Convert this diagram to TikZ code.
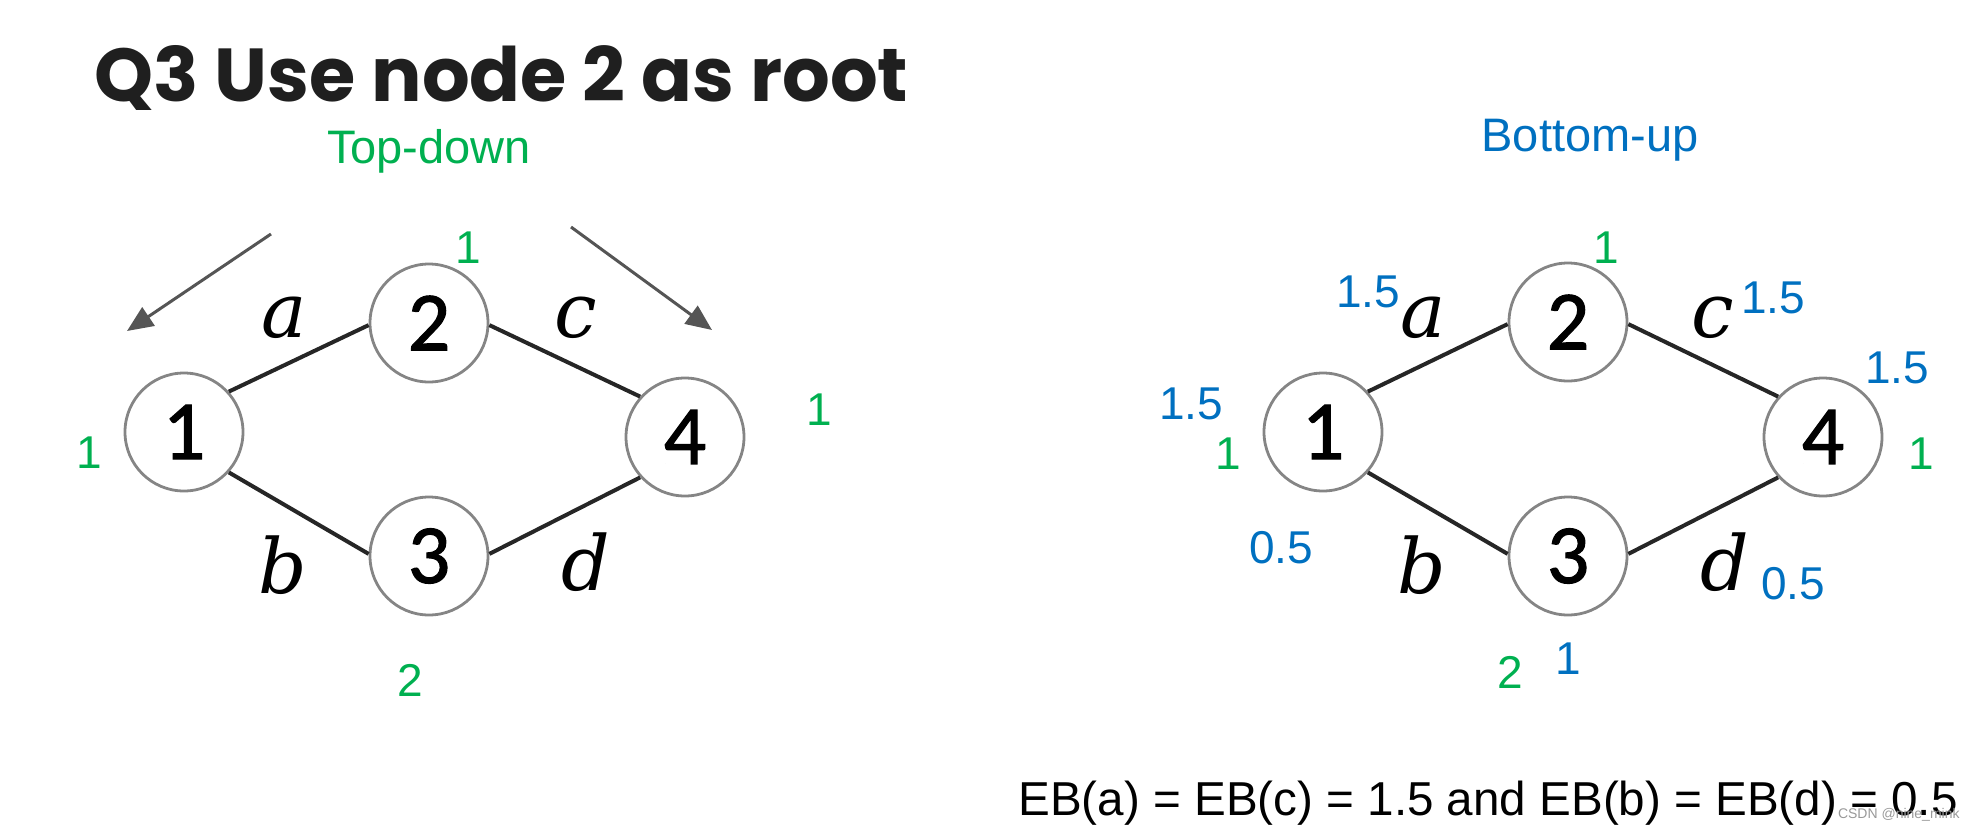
\documentclass[tikz,border=0pt]{standalone}
\usepackage{fontspec}
\setmainfont{Liberation Sans}
\newfontfamily\titlefont{Poppins}
\newfontfamily\digfont{Carlito}[FakeBold=1.3]
\newfontfamily\edgefont{DejaVu Serif}
\usetikzlibrary{arrows.meta}
\definecolor{tgreen}{HTML}{00B050}
\definecolor{tblue}{HTML}{0070C0}
\definecolor{arrgray}{HTML}{555555}
\tikzset{
  vtx/.style={circle, draw=black!48, line width=1.4pt, minimum size=59pt, inner sep=0pt,
    font=\digfont\fontsize{42}{44}\selectfont},
  edg/.style={draw=black!85, line width=2pt},
  elab/.style={inner sep=0pt, font=\edgefont\itshape\fontsize{38}{44}\selectfont},
  gnum/.style={inner sep=0pt, text=tgreen, font=\fontsize{23}{26}\selectfont},
  bnum/.style={inner sep=0pt, text=tblue, font=\fontsize{23}{26}\selectfont},
  dirarrow/.style={draw=arrgray, line width=1.5pt, -{Triangle[length=13pt,width=11pt]}},
}
\begin{document}
\begin{tikzpicture}[x=0.5pt,y=-0.5pt]
\useasboundingbox (0,0) rectangle (1976,836);
% title
\node[anchor=base west, inner sep=0pt, font=\titlefont\bfseries\fontsize{37.5}{42}\selectfont, text=black!88] (title) at (94,101) {Q3 Use node 2 as root};
\node[anchor=base, inner sep=0pt, text=tgreen, font=\fontsize{23.5}{26}\selectfont] (td) at (429,163) {Top-down};
\node[anchor=base, inner sep=0pt, text=tblue, font=\fontsize{23.5}{26}\selectfont] (bu) at (1590,151) {Bottom-up};

% left graph
\node[vtx] (L1) at (184,432) {1};
\node[vtx] (L2) at (429,323) {2};
\node[vtx] (L3) at (429,556) {3};
\node[vtx] (L4) at (685,437) {4};
\draw[edg] (L1.42) -- (L2.182);
\draw[edg] (L2.-2) -- (L4.138);
\draw[edg] (L1.-42) -- (L3.178);
\draw[edg] (L3.2) -- (L4.-138);
\node[elab] (La) at (284,318) {a};
\node[elab] (Lc) at (576,318) {c};
\node[elab] (Lb) at (283,565) {b};
\node[elab] (Ld) at (586,562) {d};
\node[gnum] (Lg2) at (468,248) {1};
\node[gnum] (Lg1) at (89,453) {1};
\node[gnum] (Lg4) at (819,410) {1};
\node[gnum] (Lg3) at (410,680) {2};
\coordinate (A1s) at (271,234);
\coordinate (A1e) at (127,331);
\coordinate (A2s) at (571,227);
\coordinate (A2e) at (712,330);
\draw[dirarrow] (A1s) -- (A1e);
\draw[dirarrow] (A2s) -- (A2e);

% right graph
\node[vtx] (R1) at (1323,432) {1};
\node[vtx] (R2) at (1568,322) {2};
\node[vtx] (R3) at (1568,556) {3};
\node[vtx] (R4) at (1823,437) {4};
\draw[edg] (R1.42) -- (R2.182);
\draw[edg] (R2.-2) -- (R4.138);
\draw[edg] (R1.-42) -- (R3.178);
\draw[edg] (R3.2) -- (R4.-138);
\node[elab] (Ra) at (1423,318) {a};
\node[elab] (Rc) at (1713,318) {c};
\node[elab] (Rb) at (1422,565) {b};
\node[elab] (Rd) at (1725,562) {d};
\node[gnum] (Rg2) at (1606,248) {1};
\node[gnum] (Rg1) at (1228,454) {1};
\node[gnum] (Rg4) at (1921,454) {1};
\node[gnum] (Rg3) at (1510,672) {2};
\node[bnum] (Rba) at (1368,292) {1.5};
\node[bnum] (Rbc) at (1773,298) {1.5};
\node[bnum] (Rb4) at (1897,368) {1.5};
\node[bnum] (Rb1) at (1191,404) {1.5};
\node[bnum] (Rbb) at (1281,548) {0.5};
\node[bnum] (Rbd) at (1793,584) {0.5};
\node[bnum] (Rb3) at (1568,659) {1};

% bottom text
\node[anchor=base west, inner sep=0pt, font=\fontsize{23.8}{28}\selectfont] (eb) at (1018,815) {EB(a) = EB(c) = 1.5 and EB(b) = EB(d) = 0.5};
\node[anchor=base east, inner sep=0pt, text=black!40, font=\fontsize{7}{8}\selectfont] (wm) at (1960,818) {CSDN @nine\_mink};
\end{tikzpicture}
\end{document}
